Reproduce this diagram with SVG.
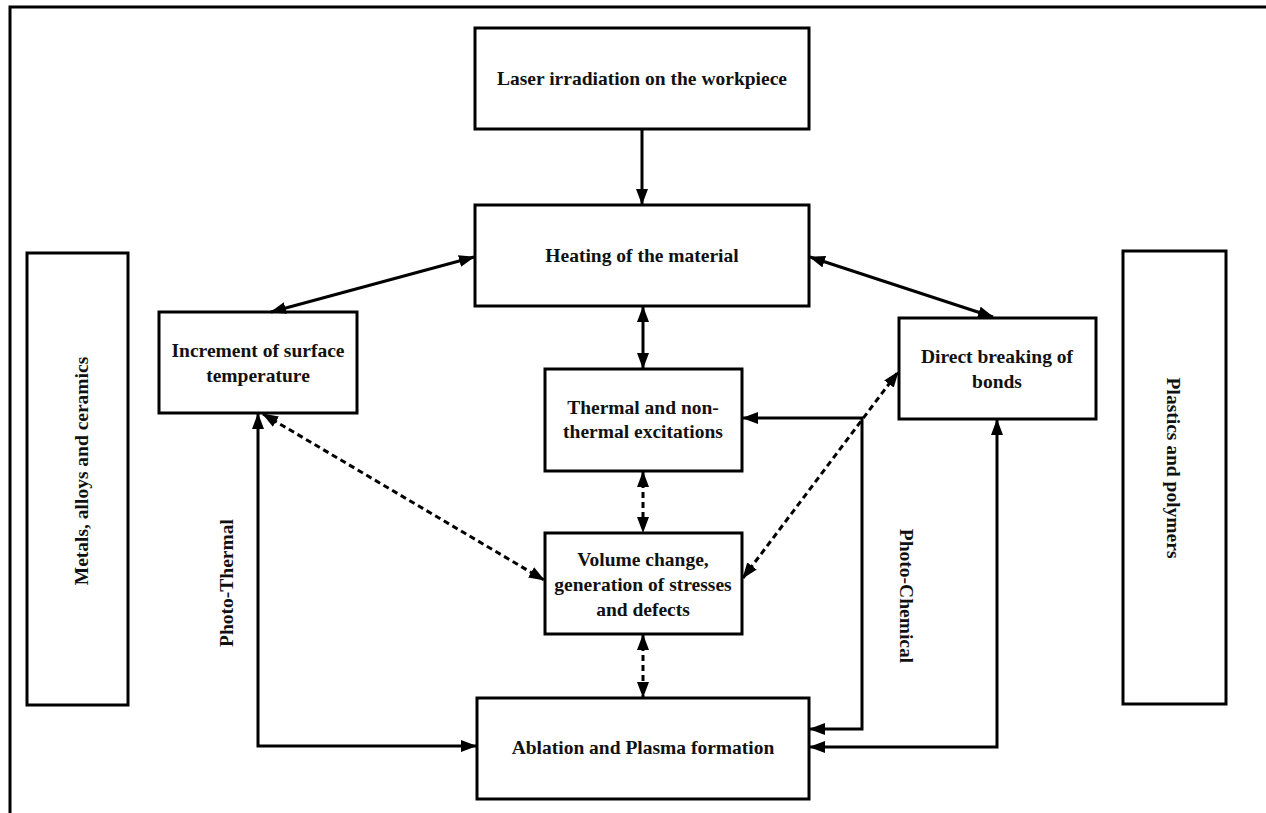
<svg xmlns="http://www.w3.org/2000/svg" width="1266" height="813" viewBox="0 0 1266 813">
  <style>
    .box { fill: #ffffff; stroke: #000000; stroke-width: 3; }
    .lbl { font-family: "Liberation Serif", "Times New Roman", serif; font-weight: bold; font-size: 19.5px; fill: #111111; text-anchor: middle; }
    .wire { fill: none; stroke: #000000; stroke-width: 3; }
    .dash { fill: none; stroke: #000000; stroke-width: 3; stroke-dasharray: 6 4; }
  </style>
  <defs>
    <marker id="head" markerUnits="userSpaceOnUse" markerWidth="16" markerHeight="12" viewBox="0 0 16 12" refX="15" refY="6" orient="auto-start-reverse">
      <path d="M0,0 L16,6 L0,12 z" fill="#000000"/>
    </marker>
  </defs>

  <rect width="1266" height="813" fill="#ffffff"/>

  <!-- page frame -->
  <path d="M10,813 V7 H1266" fill="none" stroke="#000000" stroke-width="3"/>

  <g id="laser">
    <rect class="box" x="475" y="28" width="334" height="101"/>
    <text class="lbl" x="642" y="85">Laser irradiation on the workpiece</text>
  </g>

  <g id="heating">
    <rect class="box" x="475" y="205" width="334" height="101"/>
    <text class="lbl" x="642" y="262">Heating of the material</text>
  </g>

  <g id="increment">
    <rect class="box" x="159" y="312" width="198" height="101"/>
    <text class="lbl" x="258" y="357">Increment of surface</text>
    <text class="lbl" x="258" y="382">temperature</text>
  </g>

  <g id="direct">
    <rect class="box" x="899" y="318" width="197" height="101"/>
    <text class="lbl" x="997" y="363">Direct breaking of</text>
    <text class="lbl" x="997" y="388">bonds</text>
  </g>

  <g id="excitations">
    <rect class="box" x="545" y="369" width="197" height="102"/>
    <text class="lbl" x="643" y="414">Thermal and non-</text>
    <text class="lbl" x="643" y="438">thermal excitations</text>
  </g>

  <g id="volume">
    <rect class="box" x="545" y="533" width="197" height="101"/>
    <text class="lbl" x="643" y="566">Volume change,</text>
    <text class="lbl" x="643" y="591">generation of stresses</text>
    <text class="lbl" x="643" y="616">and defects</text>
  </g>

  <g id="ablation">
    <rect class="box" x="477" y="698" width="332" height="101"/>
    <text class="lbl" x="643" y="754">Ablation and Plasma formation</text>
  </g>

  <g id="metals">
    <rect class="box" x="27" y="253" width="101" height="452"/>
    <text class="lbl" transform="translate(88,471) rotate(-90)">Metals, alloys and ceramics</text>
  </g>

  <g id="plastics">
    <rect class="box" x="1123" y="251" width="103" height="453"/>
    <text class="lbl" transform="translate(1167,468) rotate(90)">Plastics and polymers</text>
  </g>

  <g id="path-labels">
    <text class="lbl" transform="translate(233,583) rotate(-90)">Photo-Thermal</text>
    <text class="lbl" transform="translate(900,596) rotate(90)">Photo-Chemical</text>
  </g>

  <g id="connectors">
    <line class="wire" x1="642" y1="129" x2="642" y2="204" marker-end="url(#head)"/>
    <line class="wire" x1="474" y1="257" x2="271" y2="312" marker-start="url(#head)" marker-end="url(#head)"/>
    <line class="wire" x1="810" y1="257" x2="993" y2="317" marker-start="url(#head)" marker-end="url(#head)"/>
    <line class="wire" x1="643" y1="307" x2="643" y2="368" marker-start="url(#head)" marker-end="url(#head)"/>
    <line class="dash" x1="643" y1="472" x2="643" y2="532" marker-start="url(#head)" marker-end="url(#head)"/>
    <line class="dash" x1="643" y1="635" x2="643" y2="697" marker-start="url(#head)" marker-end="url(#head)"/>
    <line class="dash" x1="263" y1="414" x2="544" y2="580" marker-start="url(#head)" marker-end="url(#head)"/>
    <line class="dash" x1="743" y1="578" x2="898" y2="372" marker-start="url(#head)" marker-end="url(#head)"/>
    <polyline class="wire" points="258,414 258,746 476,746" marker-start="url(#head)" marker-end="url(#head)"/>
    <polyline class="wire" points="743,418 862,418 862,729 810,729" marker-start="url(#head)" marker-end="url(#head)"/>
    <polyline class="wire" points="997,420 997,747 810,747" marker-start="url(#head)" marker-end="url(#head)"/>
  </g>
</svg>
